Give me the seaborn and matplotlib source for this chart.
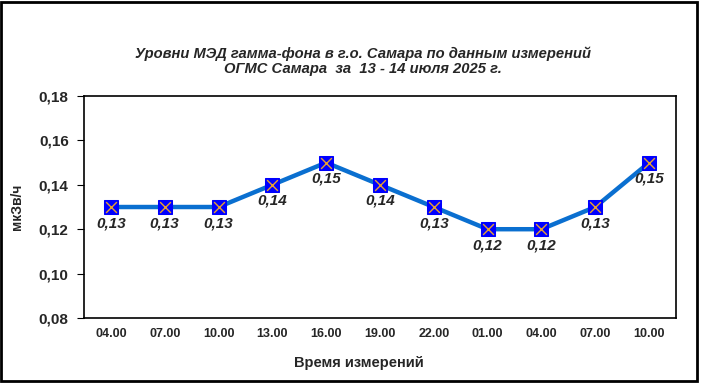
import seaborn as sns
import matplotlib.pyplot as plt
import pandas as pd
import numpy as np
from matplotlib.patches import Rectangle

# data
times = ['04.00', '07.00', '10.00', '13.00', '16.00', '19.00', '22.00', '01.00', '04.00', '07.00', '10.00']
values = [0.13, 0.13, 0.13, 0.14, 0.15, 0.14, 0.13, 0.12, 0.12, 0.13, 0.15]

df = pd.DataFrame({'pos': np.arange(len(times)), 'value': values})

sns.set_style('white')
plt.rcParams['font.family'] = ['Liberation Sans', 'DejaVu Sans']

fig = plt.figure(figsize=(7.01, 3.83), dpi=100)
ax = fig.add_axes([0.1198, 0.1697, 0.8445, 0.5796])

sns.lineplot(x='pos', y='value', data=df, ax=ax, color='#0A6FD0', linewidth=3.2,
             marker='s', markersize=10, markerfacecolor='#0000FF',
             markeredgecolor='#0000FF', zorder=3)
sns.scatterplot(x='pos', y='value', data=df, ax=ax, marker='x', s=60,
                color='#E8A030', linewidth=1, zorder=4)

for x, v in zip(df['pos'], df['value']):
    ax.annotate(f'{v:.2f}'.replace('.', ','), (x, v), xytext=(0, -6.5),
                textcoords='offset points', ha='center', va='top',
                fontsize=11, fontweight='bold', fontstyle='italic')

ax.set_xlim(-0.5, len(times) - 0.5)
ax.set_ylim(0.08, 0.18)
ax.set_yticks(np.arange(0.08, 0.181, 0.02))
ax.set_yticklabels([f'{t:.2f}'.replace('.', ',') for t in np.arange(0.08, 0.181, 0.02)],
                   fontsize=11, fontweight='bold')
ax.set_xticks(df['pos'])
ax.set_xticklabels(times, fontsize=9, fontweight='bold')
ax.set_xticks([-0.5, 7.5], minor=True)
ax.tick_params(axis='x', which='major', length=0, pad=7)
ax.tick_params(axis='x', which='minor', length=5, width=0.8, color='black', direction='out')
ax.tick_params(axis='y', length=5, width=0.8, color='black', direction='out', left=True, pad=6)

for s in ax.spines.values():
    s.set_color('black')
    s.set_linewidth(1.2)

ax.set_xlabel('Время измерений', fontsize=10.5, fontweight='bold')
ax.xaxis.set_label_coords(0.4645, -0.17)
ax.set_ylabel('мкЗв/ч', fontsize=10, fontweight='bold')
ax.yaxis.set_label_coords(-0.101, 0.5)

fig.text(0.518, 0.84, 'Уровни МЭД гамма-фона в г.о. Самара по данным измерений\nОГМС Самара  за  13 - 14 июля 2025 г.',
         ha='center', va='center', fontsize=10.6, fontweight='bold', fontstyle='italic',
         linespacing=1.15)

fig.patches.append(Rectangle((0.002, 0.006), 0.993, 0.99, transform=fig.transFigure,
                             fill=False, edgecolor='black', linewidth=2))

fig.savefig('out.png', dpi=100)
